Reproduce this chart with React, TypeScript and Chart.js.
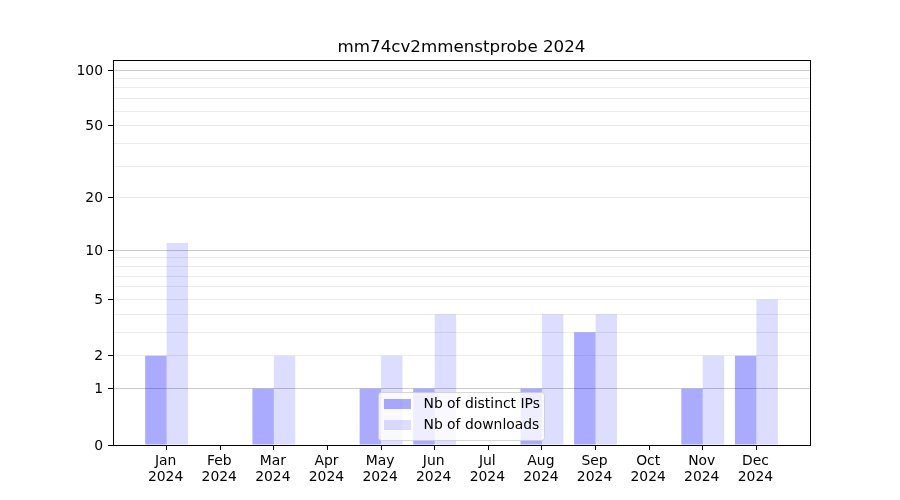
import React, { useEffect, useRef } from 'react';
import { Chart, registerables } from 'chart.js';

Chart.register(...registerables);

const TITLE = 'mm74cv2mmenstprobe 2024';
const MONTHS = ['Jan', 'Feb', 'Mar', 'Apr', 'May', 'Jun', 'Jul', 'Aug', 'Sep', 'Oct', 'Nov', 'Dec'];
const YEAR = '2024';
const IPS = [2, 0, 1, 0, 1, 1, 0, 1, 3, 0, 1, 2];
const DOWNLOADS = [11, 0, 2, 0, 2, 4, 0, 4, 4, 0, 2, 5];
const SERIES_NAMES = ['Nb of distinct IPs', 'Nb of downloads'];
const SERIES_COLORS = ['rgba(0,0,255,0.333)', 'rgba(0,0,255,0.133)'];
const Y_LABELED = [0, 1, 2, 5, 10, 20, 50, 100];
const Y_MAJOR_GRID = [1, 10, 100];
const Y_ALL_GRID = [0, 1, 2, 3, 4, 5, 6, 7, 8, 9, 10, 20, 30, 40, 50, 60, 70, 80, 90, 100];
const Y_TOP_VALUE = 113.3;

const FONT = 'DejaVu Sans';
const tr = (v: number) => Math.log10(1 + v);
const findVal = (t: number) => Y_ALL_GRID.find((v) => Math.abs(tr(v) - t) < 1e-9);

const framePlugin = {
  id: 'frameTitleLegend',
  afterDraw(chart: any) {
    const { ctx, chartArea } = chart;
    const { left, right, top, bottom } = chartArea;
    ctx.save();
    // frame
    ctx.strokeStyle = '#000';
    ctx.lineWidth = 1;
    ctx.strokeRect(Math.round(left) + 0.5, Math.round(top) + 0.5, Math.round(right - left), Math.round(bottom - top));
    // title
    ctx.fillStyle = '#000';
    ctx.font = `16.7px "${FONT}"`;
    ctx.textAlign = 'center';
    ctx.textBaseline = 'alphabetic';
    ctx.fillText(TITLE, (left + right) / 2, 51.5);
    // legend
    const lx = left + 265.5;
    const ly = top + 332.5;
    const lw = 166;
    const lh = 48;
    ctx.beginPath();
    (ctx as any).roundRect(lx, ly, lw, lh, 3);
    ctx.fillStyle = 'rgba(255,255,255,0.8)';
    ctx.fill();
    ctx.strokeStyle = 'rgba(204,204,204,0.8)';
    ctx.stroke();
    ctx.font = `13.9px "${FONT}"`;
    ctx.textAlign = 'left';
    ctx.textBaseline = 'middle';
    SERIES_NAMES.forEach((name, i) => {
      const y = ly + 6.5 + i * 21;
      ctx.fillStyle = SERIES_COLORS[i];
      ctx.fillRect(lx + 5.5, y, 27, 10);
      ctx.fillStyle = '#000';
      ctx.fillText(name, lx + 45, y + 5.5);
    });
    ctx.restore();
  },
};

export default function App() {
  const ref = useRef<HTMLCanvasElement>(null);
  useEffect(() => {
    document.body.style.margin = '0';
    const labels: any[] = ['', ...MONTHS.map((m) => [m, YEAR]), ''];
    const chart = new Chart(ref.current as HTMLCanvasElement, {
      type: 'bar',
      data: {
        labels,
        datasets: [
          {
            label: SERIES_NAMES[0],
            data: [null, ...IPS.map(tr), null],
            backgroundColor: SERIES_COLORS[0],
            borderWidth: 0,
            barPercentage: 1,
            categoryPercentage: 0.8,
          },
          {
            label: SERIES_NAMES[1],
            data: [null, ...DOWNLOADS.map(tr), null],
            backgroundColor: SERIES_COLORS[1],
            borderWidth: 0,
            barPercentage: 1,
            categoryPercentage: 0.8,
          },
        ],
      },
      options: {
        responsive: false,
        animation: false,
        layout: { padding: { left: 0, top: 60, right: 90, bottom: 0 } },
        plugins: {
          legend: { display: false },
          title: { display: false },
          tooltip: { enabled: false },
        },
        scales: {
          x: {
            type: 'category',
            offset: false,
            grid: {
              offset: false,
              drawOnChartArea: false,
              drawTicks: true,
              tickLength: 5,
              tickColor: (c: any) => (c.index === 0 || c.index === labels.length - 1 ? 'rgba(0,0,0,0)' : '#000'),
            },
            border: { color: '#000', width: 1 },
            ticks: {
              autoSkip: false,
              maxRotation: 0,
              padding: 3,
              labelOffset: -1,
              color: '#000',
              font: { family: FONT, size: 13.9, lineHeight: 1.15 },
            },
            afterFit: (s: any) => {
              s.height = 55;
            },
          },
          y: {
            type: 'linear',
            min: 0,
            max: tr(Y_TOP_VALUE),
            afterBuildTicks: (s: any) => {
              s.ticks = Y_ALL_GRID.map((v) => ({ value: tr(v) }));
            },
            grid: {
              tickLength: 5,
              color: (c: any) => {
                const v = c.tick ? findVal(c.tick.value) : undefined;
                if (v === undefined || v === 0) return 'rgba(0,0,0,0)';
                return Y_MAJOR_GRID.includes(v) ? '#cbcbcb' : '#ececec';
              },
              tickColor: (c: any) => {
                const v = c.tick ? findVal(c.tick.value) : undefined;
                return v !== undefined && Y_LABELED.includes(v) ? '#000' : 'rgba(0,0,0,0)';
              },
            },
            border: { color: '#000', width: 1 },
            ticks: {
              autoSkip: false,
              padding: 5,
              labelOffset: 1,
              color: '#000',
              font: { family: FONT, size: 13.9 },
              callback: (val: any) => {
                const v = findVal(Number(val));
                return v !== undefined && Y_LABELED.includes(v) ? String(v) : '';
              },
            },
            afterFit: (s: any) => {
              s.width = 113;
            },
          },
        },
      },
      plugins: [framePlugin],
    });
    return () => chart.destroy();
  }, []);
  return (
    <div style={{ position: 'fixed', left: 0, top: 0, width: 900, height: 500, background: '#fff' }}>
      <canvas ref={ref} width={900} height={500} />
    </div>
  );
}
